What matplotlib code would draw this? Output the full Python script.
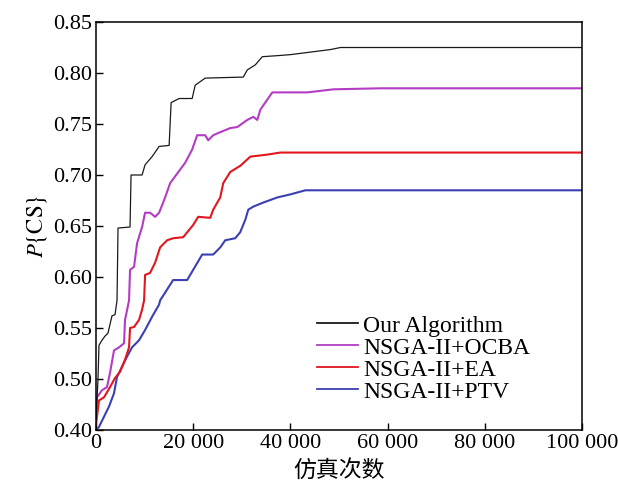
"""
plot.py — P{CS} vs number of simulations for four allocation strategies.
"""
import matplotlib
matplotlib.use("Agg")
import matplotlib.pyplot as plt

plt.rcParams["font.family"] = ["Liberation Serif", "Noto Sans CJK SC"]
plt.rcParams["mathtext.fontset"] = "stix"

# Curve data (x = simulations, y = P{CS} in axis units)
ours_x = [0, 412, 619, 1237, 1856, 2474, 3299, 3918, 4330, 4536, 7010, 7216, 9485,
          10103, 11546, 12990, 15052, 15464, 17113, 19794, 20412, 22474, 30309,
          31134, 32784, 34227, 37320, 40000, 48247, 50309, 100000]
ours_y = [0.460, 0.499, 0.533, 0.538, 0.542, 0.545, 0.562, 0.563, 0.577, 0.648, 0.649,
          0.700, 0.700, 0.710, 0.718, 0.728, 0.729, 0.771, 0.775, 0.775, 0.788, 0.795,
          0.796, 0.803, 0.808, 0.816, 0.817, 0.818, 0.823, 0.825, 0.825]

ocba_x = [0, 206, 1237, 2268, 2887, 3711, 4742, 5773, 5979, 6804, 7010, 7835, 8454,
          9485, 10103, 11134, 12165, 12990, 14227, 15258, 18351, 19794, 20825, 22474,
          23093, 24124, 25567, 27629, 29072, 31134, 32371, 33196, 33814, 35258, 36289,
          43505, 48866, 58557, 100000]
ocba_y = [0.460, 0.482, 0.489, 0.492, 0.506, 0.528, 0.531, 0.535, 0.558, 0.577, 0.607,
          0.610, 0.633, 0.649, 0.663, 0.663, 0.659, 0.663, 0.678, 0.692, 0.712, 0.725,
          0.739, 0.739, 0.734, 0.739, 0.742, 0.746, 0.747, 0.754, 0.757, 0.754, 0.764,
          0.774, 0.781, 0.781, 0.784, 0.785, 0.785]

ea_x = [0, 619, 1649, 2887, 3918, 4948, 5979, 6804, 7010, 7835, 8866, 9485, 9897,
        10103, 11134, 12165, 13196, 14639, 15876, 17938, 20000, 21031, 23505, 24124,
        25567, 26186, 27629, 29691, 31753, 35258, 37938, 100000]
ea_y = [0.455, 0.479, 0.482, 0.492, 0.501, 0.507, 0.519, 0.531, 0.550, 0.551, 0.558,
        0.568, 0.577, 0.602, 0.604, 0.614, 0.629, 0.636, 0.638, 0.639, 0.651, 0.659,
        0.658, 0.666, 0.678, 0.692, 0.703, 0.709, 0.718, 0.720, 0.722, 0.722]

ptv_x = [0, 619, 1649, 2680, 3711, 4330, 5361, 6392, 7423, 8866, 10103, 11546, 12990,
         13196, 15876, 18763, 20000, 21856, 24124, 25567, 26598, 28660, 29691, 30722,
         31340, 32371, 34433, 37320, 40000, 43093, 100000]
ptv_y = [0.450, 0.453, 0.463, 0.473, 0.486, 0.502, 0.512, 0.522, 0.531, 0.538, 0.548,
         0.561, 0.573, 0.577, 0.597, 0.597, 0.607, 0.622, 0.622, 0.629, 0.636, 0.638,
         0.644, 0.656, 0.666, 0.669, 0.673, 0.678, 0.681, 0.685, 0.685]

labels = ["Our Algorithm", "NSGA-II+OCBA", "NSGA-II+EA", "NSGA-II+PTV"]

x_ticks = [0, 20000, 40000, 60000, 80000, 100000]
x_tick_labels = ["0", "20 000", "40 000", "60 000", "80 000", "100 000"]
y_ticks = [0.45, 0.50, 0.55, 0.60, 0.65, 0.70, 0.75, 0.80, 0.85]
y_tick_labels = ["0.40", "0.50", "0.55", "0.60", "0.65", "0.70", "0.75", "0.80", "0.85"]

fig = plt.figure(figsize=(6.18, 4.88), dpi=100)
ax = fig.add_axes([0.1553, 0.1189, 0.7864, 0.836])

ax.plot(ptv_x, ptv_y, color="#3a40b4", linewidth=1.5, label=labels[3])
ax.plot(ea_x, ea_y, color="#e2161f", linewidth=1.5, label=labels[2])
ax.plot(ocba_x, ocba_y, color="#b43cc4", linewidth=1.5, label=labels[1])
ax.plot(ours_x, ours_y, color="#1a1a1a", linewidth=0.9, label=labels[0])

ax.set_xlim(0, 100000)
ax.set_ylim(0.45, 0.85)
ax.set_xticks(x_ticks)
ax.set_xticklabels(x_tick_labels)
ax.set_yticks(y_ticks)
ax.set_yticklabels(y_tick_labels)
ax.tick_params(direction="in", length=5, width=1, labelsize=16, pad=3)
for s in ax.spines.values():
    s.set_linewidth(1.1)

ax.set_xlabel("仿真次数", fontsize=16.5, labelpad=5)
ax.set_ylabel(r"$P\{\mathrm{CS}\}$", fontsize=16.5, labelpad=3)

# legend order: black, magenta, red, blue
h, l = ax.get_legend_handles_labels()
order = [3, 2, 1, 0]
leg = fig.legend([h[i] for i in order], [l[i] for i in order],
                 loc="upper left", bbox_to_anchor=(317 / 618, 1 - 315 / 488),
                 frameon=False, fontsize=17, handlelength=1.75, handletextpad=0.2,
                 labelspacing=0.02, borderpad=0, borderaxespad=0)
for line in leg.get_lines():
    line.set_linewidth(1.3)

fig.savefig("out.png", dpi=100)
plt.close()
